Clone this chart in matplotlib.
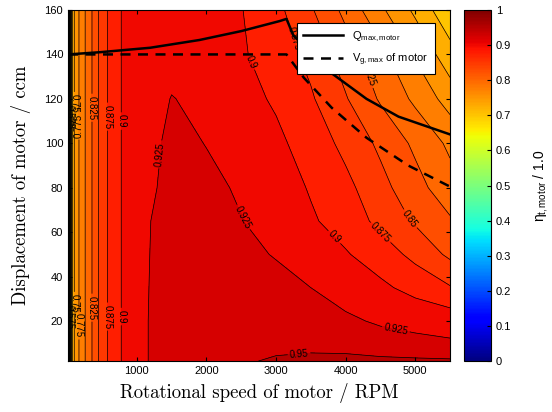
import numpy as np
import matplotlib
matplotlib.use('Agg')
import matplotlib.pyplot as plt
from matplotlib.colors import Normalize
from matplotlib.cm import ScalarMappable
from matplotlib.ticker import FuncFormatter

plt.rcParams['font.family'] = ['Liberation Sans', 'DejaVu Sans']
plt.rcParams['mathtext.fontset'] = 'custom'
plt.rcParams['mathtext.rm'] = 'Liberation Sans'
plt.rcParams['mathtext.it'] = 'Liberation Sans:italic'
plt.rcParams['mathtext.bf'] = 'Liberation Sans:bold'

# ---- data ----
speed_rpm = [10, 50, 100, 200, 300, 450, 600, 800, 1000, 1200, 1350, 1500,
             2000, 2500, 3000, 3500, 4000, 4500, 5000, 5500]
displacement_ccm = [2, 10, 20, 35, 50, 65, 80, 100, 120, 140, 160]
low_speed = [0.45, 0.70, 0.75, 0.787, 0.81, 0.851, 0.879, 0.903, 0.912]
efficiency = [
    low_speed + [0.928, 0.932, 0.935, 0.942, 0.947, 0.953, 0.955, 0.955, 0.955, 0.954, 0.953],
    low_speed + [0.928, 0.931, 0.933, 0.938, 0.941, 0.943, 0.944, 0.943, 0.935, 0.931, 0.928],
    low_speed + [0.928, 0.930, 0.932, 0.935, 0.936, 0.935, 0.933, 0.929, 0.922, 0.918, 0.915],
    low_speed + [0.927, 0.929, 0.931, 0.934, 0.933, 0.930, 0.925, 0.915, 0.905, 0.892, 0.877],
    low_speed + [0.926, 0.928, 0.930, 0.932, 0.929, 0.924, 0.917, 0.902, 0.888, 0.868, 0.845],
    low_speed + [0.925, 0.928, 0.930, 0.930, 0.9255, 0.918, 0.903, 0.890, 0.868, 0.847, 0.828],
    low_speed + [0.922, 0.927, 0.930, 0.929, 0.923, 0.912, 0.898, 0.882, 0.858, 0.834, 0.810],
    low_speed + [0.919, 0.925, 0.930, 0.9245, 0.913, 0.905, 0.890, 0.868, 0.845, 0.820, 0.795],
    low_speed + [0.915, 0.920, 0.926, 0.918, 0.908, 0.897, 0.878, 0.852, 0.822, 0.795, 0.764],
    low_speed + [0.912, 0.913, 0.915, 0.912, 0.903, 0.888, 0.868, 0.838, 0.808, 0.772, 0.735],
    low_speed + [0.910, 0.910, 0.912, 0.908, 0.901, 0.882, 0.853, 0.818, 0.780, 0.745, 0.705],
]

qmax_speed = [10, 470, 1190, 1900, 2500, 3050, 3150, 3250, 3800, 4300, 4760, 5500]
qmax_disp = [140, 141, 143, 146.5, 150.5, 155, 156, 148.5, 131.5, 120, 112, 104]

vgmax_speed = [10, 3150, 3400, 3800, 4300, 4900, 5500]
vgmax_disp = [140, 140, 129.5, 116, 102.5, 90, 80.5]

contour_levels = np.arange(0.0, 1.0001, 0.025)
x_ticks = [1000, 2000, 3000, 4000, 5000]
y_ticks = [20, 40, 60, 80, 100, 120, 140, 160]
cbar_ticks = [0, 0.1, 0.2, 0.3, 0.4, 0.5, 0.6, 0.7, 0.8, 0.9, 1]

# contour label anchor positions (data coords)
label_pos = [(760, 110), (1330, 95), (2470, 66), (2660, 137), (3260, 147),
             (4250, 130), (3780, 56), (4430, 57.5), (4870, 65), (4715, 15),
             (3330, 5.5),
             (30, 112), (120, 118), (200, 108), (330, 116), (560, 112),
             (30, 22), (120, 28), (200, 18), (330, 26), (560, 22), (760, 22)]

# ---- figure ----
fig = plt.figure(figsize=(5.52, 4.12), dpi=100)
W, H = 552, 412
ax = fig.add_axes([68 / W, 1 - 361 / H, 382 / W, 351 / H])
cax = fig.add_axes([464 / W, 1 - 361 / H, 27 / W, 351 / H])

X, Y = np.meshgrid(speed_rpm, displacement_ccm)
Z = np.array(efficiency)

ax.contourf(X, Y, Z, levels=contour_levels, cmap='jet',
            norm=Normalize(0.0125, 1.0125))
cs = ax.contour(X, Y, Z, levels=contour_levels, colors='k', linewidths=0.5)
ax.clabel(cs, fontsize=7, fmt='%g', manual=label_pos, inline=True,
          inline_spacing=2)

ax.plot(qmax_speed, qmax_disp, color='k', lw=1.8,
        label=r'Q$_{\mathrm{max,motor}}$')
ax.plot(vgmax_speed, vgmax_disp, color='k', lw=1.8, ls=(0, (4, 3)),
        label=r'V$_{\mathrm{g,max}}$ of motor')

ax.set_xlim(10, 5500)
ax.set_ylim(2, 160)
ax.set_xticks(x_ticks)
ax.set_yticks(y_ticks)
ax.tick_params(direction='in', top=True, right=True, labelsize=8, length=3)
ax.set_xlabel('Rotational speed of motor / RPM', family='cmr10', fontsize=13.5,
              labelpad=5)
ax.set_ylabel('Displacement of motor / ccm', family='cmr10', fontsize=13.5,
              labelpad=10)

leg = ax.legend(loc='upper right', bbox_to_anchor=(0.961, 0.963),
                borderaxespad=0, fontsize=8, frameon=True, fancybox=False,
                framealpha=1, edgecolor='k', handlelength=3.6,
                labelspacing=0.65, borderpad=0.6)
leg.get_frame().set_linewidth(0.8)

cb = fig.colorbar(ScalarMappable(norm=Normalize(0, 1), cmap='jet'), cax=cax,
                  ticks=cbar_ticks)
cb.ax.yaxis.set_major_formatter(FuncFormatter(lambda v, p: '%g' % v))
cb.ax.tick_params(direction='in', labelsize=8, length=3)
cb.outline.set_linewidth(0.8)
cb.set_label(r'η$_{\mathrm{t,motor}}$ / 1.0', fontsize=10, labelpad=14)

fig.savefig('out.png', dpi=100)
